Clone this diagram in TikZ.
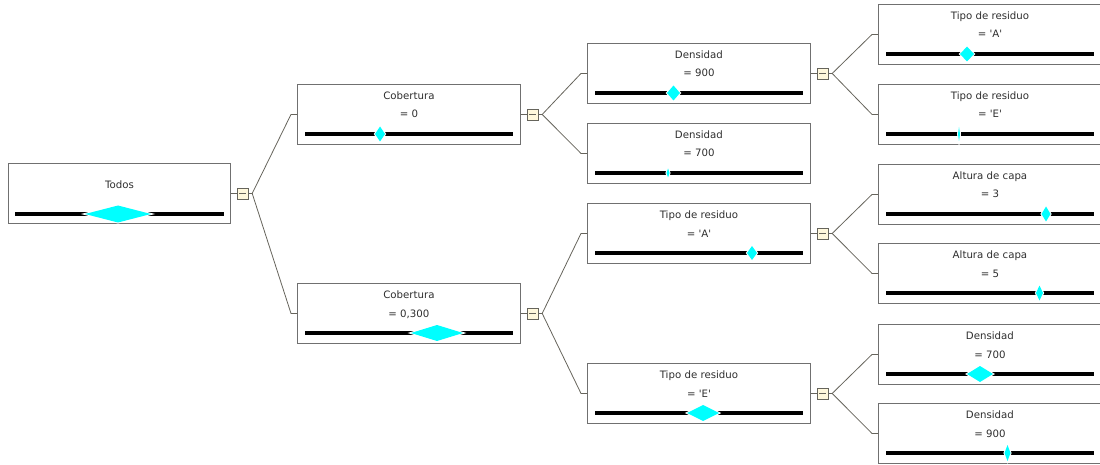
\documentclass[tikz,border=0pt]{standalone}
\usepackage{fontspec}
\newfontfamily\arbolfont{DejaVu Sans}
\usepackage{tikz}
\usetikzlibrary{positioning, calc}

\definecolor{borde}{HTML}{707070}
\definecolor{rama}{HTML}{66645C}
\definecolor{texto}{HTML}{2E2E2E}
\definecolor{plegar}{HTML}{FFF8DC}
\definecolor{rombo}{HTML}{00FFFF}

\tikzset{
    caja/.style={draw=borde, line width=0.9pt, minimum width=#1pt, minimum height=60pt,
        inner sep=0pt, anchor=north west},
    etiqueta/.style={anchor=base, inner sep=0pt, text=texto},
    barra/.style={line width=3.6pt},
    ramal/.style={draw=rama, line width=0.8pt},
    boton/.style={draw=rama, fill=plegar, line width=0.8pt, minimum size=11pt, inner sep=0pt}
}

\begin{document}
\begin{tikzpicture}[x=1pt, y=-1pt, font=\arbolfont\fontsize{10.2}{12}\selectfont]
    \useasboundingbox (0,0) rectangle (1100,465);
    % nodo raiz
    \node[caja=222] (todos) at (8,163) {};
    \node[etiqueta] (todos-t) at ($(todos.north)+(0,26)$) {Todos};
    \draw[barra] ($(todos.north west)+(7,51)$) -- ($(todos.north east)+(-7,51)$);
    \draw[white, line width=2pt] (85,214) -- (118,205.5) -- (151,214) -- (118,222.5) -- cycle;
    \fill[rombo] (85,214) -- (118,205.5) -- (151,214) -- (118,222.5) -- cycle;
    % nodos: nombre/x/y/titulo/valor/rombo x/semiancho/semialto
    \foreach \n/\x/\y/\t/\v/\d/\a/\h in {
        cob0/297/84/Cobertura/{= 0}/380/5/7.5,
        cob3/297/283/Cobertura/{= 0,300}/437/26/8,
        den9/587/43/Densidad/{= 900}/673.5/6.5/7.5,
        den7/587/123/Densidad/{= 700}/668/1.5/4.5,
        tipA/587/203/Tipo de residuo/{= \textquotesingle A\textquotesingle}/752/5/7,
        tipE/587/363/Tipo de residuo/{= \textquotesingle E\textquotesingle}/703/16/8,
        res1/878/4/Tipo de residuo/{= \textquotesingle A\textquotesingle}/967/7/7.5,
        res2/878/84/Tipo de residuo/{= \textquotesingle E\textquotesingle}/959/1/7,
        res3/878/164/Altura de capa/{= 3}/1046/4.5/7.5,
        res4/878/243/Altura de capa/{= 5}/1039.5/3.5/7.5,
        res5/878/324/Densidad/{= 700}/980/13/8,
        res6/878/403/Densidad/{= 900}/1007.5/3/8}
    {
        \node[caja=223] (\n) at (\x,\y) {};
        \node[etiqueta] (\n-t) at ($(\n.north)+(0,15.5)$) {\t};
        \node[etiqueta] (\n-v) at ($(\n.north)+(0,34)$) {\v};
        \draw[barra] ($(\n.north west)+(8,50)$) -- ($(\n.north east)+(-8,50)$);
        \draw[white, line width=2pt] (\d-\a,\y+50) -- (\d,\y+50-\h) -- (\d+\a,\y+50) -- (\d,\y+50+\h) -- cycle;
        \fill[rombo] (\d-\a,\y+50) -- (\d,\y+50-\h) -- (\d+\a,\y+50) -- (\d,\y+50+\h) -- cycle;
    }
    % botones de plegar
    \foreach \p in {todos, cob0, cob3, den9, tipA, tipE} {
        \node[boton, right=6pt of \p] (\p-m) {};
        \draw[ramal] (\p.east) -- (\p-m);
        \draw[line width=0.9pt, rama] ([xshift=2.5pt]\p-m.west) -- ([xshift=-2.5pt]\p-m.east);
    }
    % ramas
    \foreach \p/\c in {todos/cob0, todos/cob3, cob0/den9, cob0/den7, cob3/tipA, cob3/tipE,
                       den9/res1, den9/res2, tipA/res3, tipA/res4, tipE/res5, tipE/res6}
        \draw[ramal] (\p-m.east) -- ++(3.5,0) -- ([xshift=-6pt]\c.west) -- (\c.west);
\end{tikzpicture}
\end{document}
